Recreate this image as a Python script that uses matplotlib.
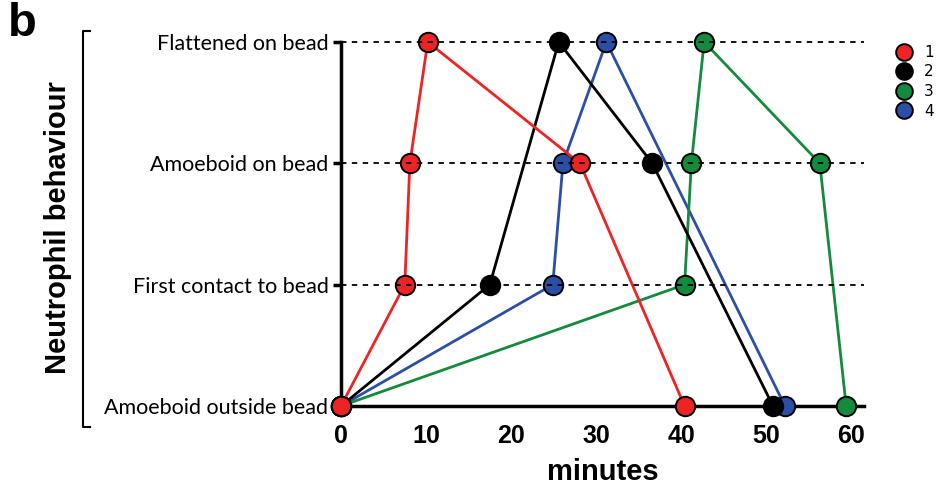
import matplotlib
matplotlib.use("Agg")
import matplotlib.pyplot as plt
from matplotlib.lines import Line2D

# behaviour states (y positions 0..3)
states = ['Amoeboid outside bead', 'First contact to bead', 'Amoeboid on bead', 'Flattened on bead']

# time (minutes) and state index for each neutrophil
t1 = [0, 7.5, 8.1, 10.2, 28.1, 40.4]
s1 = [0, 1, 2, 3, 2, 0]
t2 = [0, 17.5, 25.6, 36.6, 50.8]
s2 = [0, 1, 3, 2, 0]
t3 = [0, 40.4, 41.2, 42.7, 56.3, 59.4]
s3 = [0, 1, 2, 3, 2, 0]
t4 = [0, 24.9, 26.1, 31.2, 52.2]
s4 = [0, 1, 2, 3, 0]

labels = ['1', '2', '3', '4']
colors = ['#ee2424', '#000000', '#138a3c', '#2b4ea6']

fig = plt.figure(figsize=(9.36, 4.88), dpi=100)
ax = fig.add_axes([0.3643, 0.168, 0.5588, 0.746])

series = [(t4, s4, colors[3], 3), (t3, s3, colors[2], 4), (t2, s2, colors[1], 5), (t1, s1, colors[0], 6)]
for t, s, c, z in series:
    ax.plot(t, s, color=c, lw=2.0, marker='o', ms=14, mfc=c, mec='black', mew=1.4,
            clip_on=False, zorder=z)

for y in [1, 2, 3]:
    ax.axhline(y, color='black', lw=1.3, ls=(0, (3, 3)), zorder=10, clip_on=False)

ax.set_xlim(0, 61.5)
ax.set_ylim(0, 3)
ax.set_xticks([0, 10, 20, 30, 40, 50, 60])
ax.set_yticks([0, 1, 2, 3])
ax.set_yticklabels(states, fontsize=15.5, family='Lato')
for lab in ax.get_xticklabels():
    lab.set_fontweight('bold')
    lab.set_fontsize(18)
    lab.set_family('Liberation Sans')
ax.tick_params(axis='y', length=6, width=2.5, pad=3)
ax.tick_params(axis='x', length=0, pad=13)
for side in ['top', 'right']:
    ax.spines[side].set_visible(False)
ax.spines['left'].set_linewidth(2.5)
ax.spines['bottom'].set_linewidth(2.5)
ax.spines['left'].set_zorder(2)
ax.spines['bottom'].set_zorder(2)
ax.set_xlabel('minutes', fontsize=21, fontweight='bold', family='Liberation Sans', labelpad=7)

# legend
handles = [Line2D([], [], ls='none', marker='o', ms=12, mfc=c, mec='black', mew=1.4) for c in colors]
fig.legend(handles, labels, loc='upper left', bbox_to_anchor=(0.958, 0.908), frameon=False,
           fontsize=11, handletextpad=0.8, labelspacing=0.3, handlelength=1.0,
           borderpad=0, borderaxespad=0)

# y label with bracket
fig.text(0.062, 0.533, 'Neutrophil behaviour', rotation=90, ha='center', va='center',
         fontsize=21, fontweight='bold', family='Liberation Sans')
bx0, bx1 = 83 / 936, 90 / 936
by0, by1 = 1 - 427 / 488, 1 - 31 / 488
fig.add_artist(Line2D([bx1, bx0, bx0, bx1], [by1, by1, by0, by0], color='black', lw=1.5,
                      transform=fig.transFigure))

fig.text(0.008, 0.995, 'b', ha='left', va='top', fontsize=34, fontweight='bold', family='Liberation Sans')

fig.savefig('out.png', dpi=100)
